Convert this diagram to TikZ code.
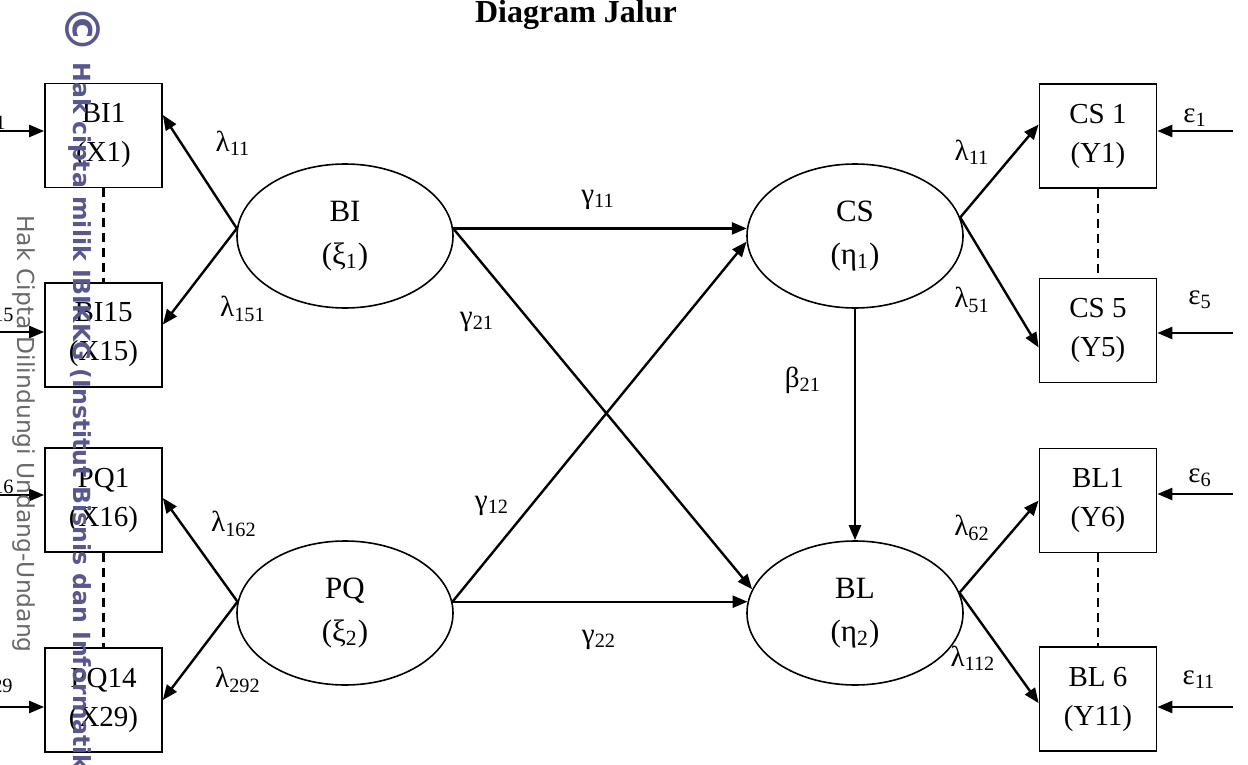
\documentclass[tikz,border=0pt]{standalone}
\usepackage{fontspec}
\setmainfont{Liberation Serif}
\newfontfamily\wmfont{DejaVu Sans}
\usetikzlibrary{arrows.meta,shapes.geometric}
\definecolor{wmblue}{RGB}{88,88,145}
\definecolor{wmgrey}{RGB}{105,105,105}
\begin{document}
\begin{tikzpicture}[x=0.5pt,y=-0.5pt,
  box/.style={draw,line width=0.85pt,minimum width=58.5pt,minimum height=52pt,inner sep=0pt,align=center,font=\fontsize{14.5}{19.5}\selectfont},
  lat/.style={draw,ellipse,line width=0.8pt,minimum width=108pt,minimum height=72pt,inner sep=0pt,align=center,font=\fontsize{15.5}{21.5}\selectfont},
  lbl/.style={inner sep=0pt,font=\fontsize{14.5}{16}\selectfont},
  arr/.style={-{Triangle[length=7.5pt,width=6pt]},line width=1.2pt},
  link/.style={dash pattern=on 4.5pt off 3pt,line width=1.1pt},
  wm/.style={rotate=-90,anchor=west,inner sep=0pt}
]
\useasboundingbox (0,0) rectangle (1248,765);
\node[font=\bfseries\fontsize{16}{18}\selectfont] (title) at (576,15) {Diagram Jalur};
\node[box] (BI1) at (103.5,135.5) {BI1\\(X1)};
\node[box] (BI15) at (103.5,335) {BI15\\(X15)};
\node[box] (PQ1) at (103.5,500) {PQ1\\(X16)};
\node[box] (PQ14) at (103.5,700) {PQ14\\(X29)};
\node[box] (CS1) at (1098,136) {CS 1\\(Y1)};
\node[box] (CS5) at (1098,330.5) {CS 5\\(Y5)};
\node[box] (BL1) at (1098,500.5) {BL1\\(Y6)};
\node[box] (BL6) at (1098,699) {BL 6\\(Y11)};
\node[lat] (BI) at (345,236) {BI\\(ξ\textsubscript{1})};
\node[lat] (PQ) at (345,613) {PQ\\(ξ\textsubscript{2})};
\node[lat] (CS) at (855,236) {CS\\(η\textsubscript{1})};
\node[lat] (BL) at (855,613) {BL\\(η\textsubscript{2})};
\draw[link] (BI1.south) -- (BI15.north);
\draw[link] (PQ1.south) -- (PQ14.north);
\draw[link] (CS1.south) -- (CS5.north);
\draw[link] (BL1.south) -- (BL6.north);
\draw[arr] (BI.176) -- (BI1.19);
\draw[arr] (BI.176) -- (BI15.10);
\draw[arr] (PQ.174) -- (PQ1.2);
\draw[arr] (PQ.174) -- (PQ14.east);
\draw[arr] (CS.10) -- (CS1.169);
\draw[arr] (CS.10) -- (CS5.196);
\draw[arr] (BL.11) -- (BL1.west);
\draw[arr] (BL.11) -- (BL6.184);
\draw[arr] (BI.4) -- (CS.176);
\draw[arr] (BI.4) -- (BL.167);
\draw[arr] (PQ.6) -- (CS.183);
\draw[arr] (PQ.6) -- (BL.174);
\draw[arr] (CS.south) -- (BL.north);
\coordinate (d1) at (0,131);
\coordinate (d15) at (0,332);
\coordinate (d16) at (0,495);
\coordinate (d29) at (0,707);
\coordinate (e1) at (1233,131);
\coordinate (e5) at (1233,333);
\coordinate (e6) at (1233,494);
\coordinate (e11) at (1233,707);
\draw[arr] (d1) -- (d1 -| BI1.west);
\draw[arr] (d15) -- (d15 -| BI15.west);
\draw[arr] (d16) -- (d16 -| PQ1.west);
\draw[arr] (d29) -- (d29 -| PQ14.west);
\draw[arr] (e1) -- (e1 -| CS1.east);
\draw[arr] (e5) -- (e5 -| CS5.east);
\draw[arr] (e6) -- (e6 -| BL1.east);
\draw[arr] (e11) -- (e11 -| BL6.east);
\node[lbl,anchor=east] (dl1) at (7,117) {δ\textsubscript{1}};
\node[lbl,anchor=east] (dl15) at (15,309) {δ\textsubscript{15}};
\node[lbl,anchor=east] (dl16) at (15,481) {δ\textsubscript{16}};
\node[lbl,anchor=east] (dl29) at (14,680) {δ\textsubscript{29}};
\node[lbl] (el1) at (1195,118) {ε\textsubscript{1}};
\node[lbl] (el5) at (1200,300) {ε\textsubscript{5}};
\node[lbl] (el6) at (1200,478) {ε\textsubscript{6}};
\node[lbl] (el11) at (1199,680) {ε\textsubscript{11}};
\node[lbl] (lx1) at (233,143) {λ\textsubscript{11}};
\node[lbl] (lx15) at (243,309) {λ\textsubscript{151}};
\node[lbl] (lx16) at (234,524) {λ\textsubscript{162}};
\node[lbl] (lx29) at (238,680) {λ\textsubscript{292}};
\node[lbl] (ly1) at (972,152) {λ\textsubscript{11}};
\node[lbl] (ly5) at (972,300) {λ\textsubscript{51}};
\node[lbl] (ly6) at (972,528) {λ\textsubscript{62}};
\node[lbl] (ly11) at (973,658) {λ\textsubscript{112}};
\node[lbl] (g11) at (598,200) {γ\textsubscript{11}};
\node[lbl] (g21) at (477,322) {γ\textsubscript{21}};
\node[lbl] (g12) at (492,506) {γ\textsubscript{12}};
\node[lbl] (g22) at (599,640) {γ\textsubscript{22}};
\node[lbl] (b21) at (803,380) {β\textsubscript{21}};
\node[wm,text=wmgrey,font=\wmfont\fontsize{11.7}{11.7}\selectfont] (wmgrey) at (24,215) {Hak Cipta Dilindungi Undang-Undang};
\node[rotate=-90,inner sep=0pt,text=wmblue,font=\wmfont\bfseries\fontsize{24}{24}\selectfont] (wmc) at (83,30) {©};
\node[wm,text=wmblue,font=\wmfont\bfseries\fontsize{11.8}{11.8}\selectfont] (wmblue) at (80,62) {Hak cipta milik IBIKKG (Institut Bisnis dan Informatika};
\end{tikzpicture}
\end{document}
